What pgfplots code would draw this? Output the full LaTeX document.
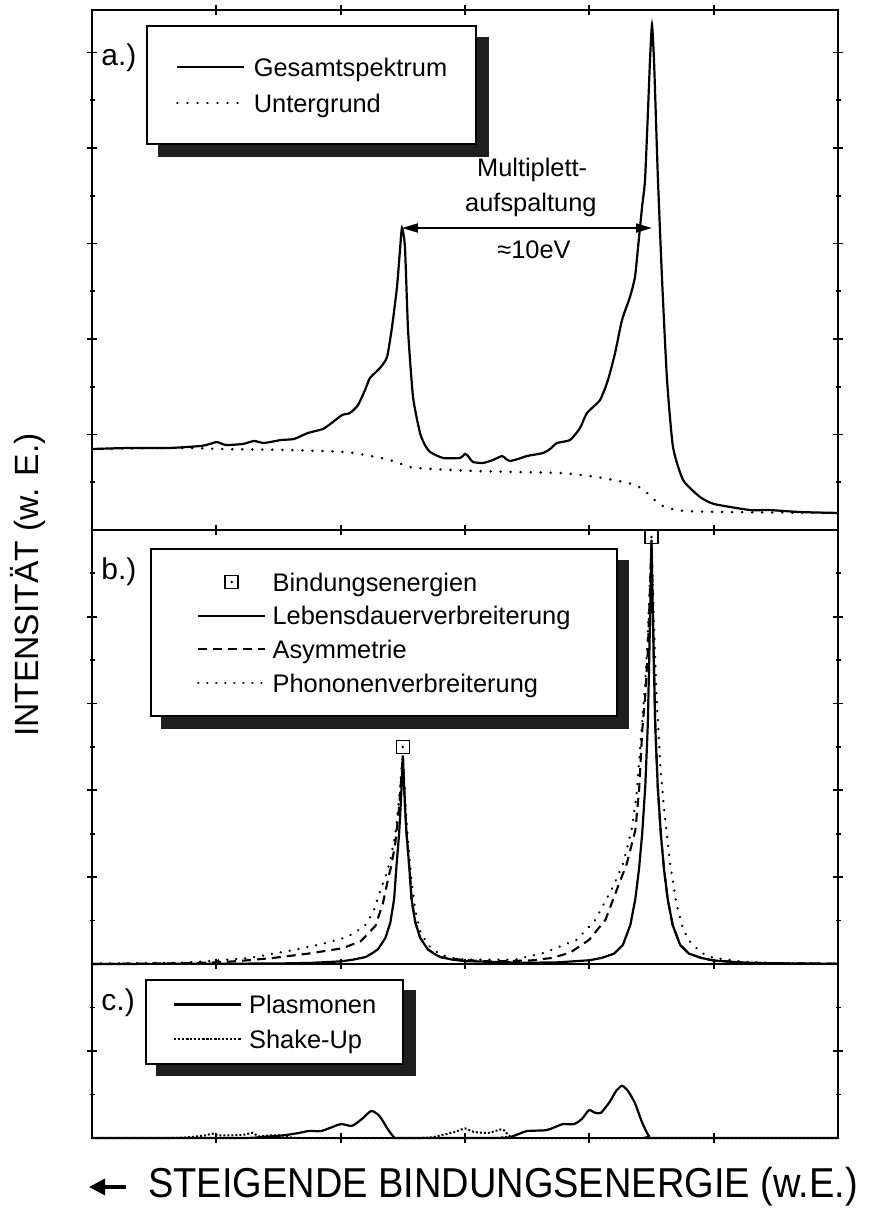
\documentclass[border=0pt]{standalone}
\usepackage{pgfplots}
\pgfplotsset{compat=1.18}
\usepackage{graphicx}
\usepackage{fontspec}
\setmainfont{Liberation Sans}
\usetikzlibrary{arrows.meta,backgrounds}

\pgfdeclareplotmark{sqdot}{%
  \pgfpathrectangle{\pgfpoint{-\pgfplotmarksize}{-\pgfplotmarksize}}{\pgfpoint{2\pgfplotmarksize}{2\pgfplotmarksize}}%
  \pgfusepathqstroke
  \pgfpathcircle{\pgfpointorigin}{0.7pt}%
  \pgfusepathqfill
}

\pgfplotsset{
  panel/.style={
    scale only axis, width=373pt, xmin=0, xmax=6, ymin=0,
    anchor=south west,
    xtick={1,2,3,4,5}, xticklabels={}, yticklabels={},
    axis line style={line width=1pt},
    tick style={line width=0.9pt, black},
    major tick length=5pt, minor tick length=2.5pt,
    tick align=center,
    clip=false,
    legend cell align=left,
    legend image code/.code={\draw[mark repeat=2,mark phase=2,##1] plot coordinates {(0pt,0pt) (16.75pt,0pt) (33.5pt,0pt)};},
  },
  legbox/.style={
    anchor=north west, draw=black, line width=1pt, fill=white,
    font=\fontsize{12.7}{15}\selectfont,
    nodes={inner sep=0pt, text height=9pt, text depth=0pt},
  },
}
\tikzset{
  sol/.style={line width=1.1pt, black},
  dots/.style={line width=1.4pt, black, line cap=round, dash pattern=on 0.01pt off 5pt},
  pdots/.style={line width=1.3pt, black, line cap=round, dash pattern=on 0.01pt off 4.5pt},
  dsh/.style={line width=1.05pt, black, dash pattern=on 4.5pt off 3pt},
  fdots/.style={line width=1pt, black, dash pattern=on 1pt off 1pt},
  lbl/.style={font=\fontsize{15}{18}\selectfont, anchor=center},
  txt/.style={font=\fontsize{12.7}{15}\selectfont, anchor=center},
}

\begin{document}
\begin{tikzpicture}
\useasboundingbox (0,0) rectangle (434.5pt,604pt);

% ---------------- panel a ----------------
\begin{axis}[panel, at={(46pt,339pt)}, height=260pt, ymax=5.445,
  ytick={1,2,3,4,5}, minor ytick={0.5,1.5,2.5,3.5,4.5},
  legend style={legbox, name=legA, at={(0.0724,0.971)}, inner xsep=14.5pt, inner ysep=16pt, row sep=9pt,
    /tikz/every odd column/.append style={column sep=4pt}}]
\addplot[sol, smooth, tension=0.35] coordinates {
(0,0.848) (0.306,0.859) (0.627,0.859) (0.877,0.880) (0.949,0.901) (1.005,0.921) (1.078,0.890)
(1.215,0.901) (1.303,0.932) (1.383,0.911) (1.520,0.942) (1.625,0.953) (1.737,1.016) (1.858,1.058)
(1.938,1.131) (2.011,1.204) (2.075,1.225) (2.140,1.309) (2.196,1.466) (2.236,1.592) (2.316,1.696)
(2.373,1.812) (2.413,2.126) (2.453,2.545) (2.477,2.932) (2.493,3.162) (2.517,2.963) (2.542,2.094)
(2.582,1.393) (2.638,1.016) (2.678,0.890) (2.719,0.817) (2.823,0.754) (2.960,0.754) (3.000,0.796)
(3.024,0.775) (3.064,0.712) (3.145,0.702) (3.225,0.733) (3.298,0.775) (3.330,0.743) (3.362,0.723)
(3.426,0.743) (3.499,0.775) (3.628,0.806) (3.684,0.848) (3.740,0.911) (3.845,0.942) (3.925,1.068)
(3.981,1.225) (4.086,1.361) (4.150,1.571) (4.207,1.853) (4.263,2.199) (4.327,2.440) (4.367,2.649)
(4.392,2.963) (4.424,3.382) (4.448,3.665) (4.472,4.398) (4.488,4.921) (4.504,5.288) (4.520,4.921)
(4.536,4.293) (4.552,3.665) (4.585,2.618) (4.625,1.571) (4.673,0.869) (4.754,0.524) (4.890,0.346)
(5.003,0.272) (5.292,0.209) (5.445,0.209) (5.695,0.188) (6,0.178)};
\addlegendentry{Gesamtspektrum}
\addplot[dots, smooth, tension=0.5] coordinates {
(0,0.848) (0.708,0.859) (1.046,0.848) (1.552,0.838) (2.027,0.817) (2.196,0.785) (2.365,0.743)
(2.469,0.702) (2.550,0.660) (2.735,0.639) (3.081,0.618) (3.418,0.607) (3.756,0.597) (4.005,0.565)
(4.190,0.524) (4.367,0.471) (4.464,0.387) (4.552,0.283) (4.633,0.230) (4.770,0.199) (5.107,0.188)
(6,0.178)};
\addlegendentry{Untergrund}
\draw[line width=1pt, {Triangle[length=8pt,width=4.5pt]}-{Triangle[length=8pt,width=4.5pt]}]
  (axis cs:2.493,3.162) -- (axis cs:4.504,3.162);
\node[txt] at (axis cs:3.54,3.77) {Multiplett-};
\node[txt] at (axis cs:3.53,3.40) {aufspaltung};
\node[txt] at (axis cs:3.555,2.93) {≈10eV};
\node[lbl] at (rel axis cs:0.036,0.908) {a.)};
\end{axis}

% ---------------- panel b ----------------
\begin{axis}[panel, at={(46pt,122pt)}, height=217pt, ymax=5,
  ytick={1,2,3,4}, minor ytick={0.5,1.5,2.5,3.5,4.5},
  legend style={legbox, name=legB, at={(0.0777,0.9585)}, inner xsep=23pt, inner ysep=12pt, row sep=7.85pt,
    /tikz/every odd column/.append style={column sep=3pt}}]
\addplot[only marks, mark=sqdot, mark size=3.25pt, line width=0.8pt, black] coordinates {(2.5,2.5) (4.5,4.92)};
\addlegendentry{Bindungsenergien}
\addplot[sol] coordinates {
(0,0) (1.0,0.003) (1.5,0.006) (1.75,0.012) (2.0,0.03) (2.1,0.05) (2.2,0.08) (2.25,0.12) (2.3,0.17)
(2.36,0.3) (2.4,0.48) (2.43,0.75) (2.45,1.15) (2.47,1.5) (2.48,1.75) (2.49,2.05) (2.5,2.4)
(2.51,2.05) (2.52,1.75) (2.53,1.5) (2.55,1.15) (2.57,0.75) (2.6,0.48) (2.64,0.3) (2.7,0.17)
(2.75,0.12) (2.8,0.08) (2.9,0.05) (3.0,0.033) (3.25,0.023) (3.5,0.014) (3.75,0.019) (4.0,0.043)
(4.1,0.07) (4.2,0.12) (4.27,0.22) (4.33,0.45) (4.37,0.75) (4.4,1.1) (4.425,1.5) (4.45,2.05)
(4.47,2.75) (4.48,3.4) (4.49,4.1) (4.5,4.88) (4.51,4.1) (4.52,3.4) (4.53,2.75) (4.55,2.05)
(4.575,1.5) (4.6,1.1) (4.63,0.75) (4.67,0.45) (4.73,0.22) (4.8,0.12) (4.9,0.07) (5.0,0.04)
(5.25,0.015) (5.5,0.008) (6,0.003)};
\addlegendentry{Lebensdauerverbreiterung}
\addplot[dsh] coordinates {
(0,0) (0.7,0.008) (1.0,0.018) (1.19,0.035) (1.46,0.07) (1.74,0.12) (2.01,0.18) (2.16,0.26)
(2.28,0.44) (2.34,0.7) (2.38,0.97) (2.41,1.15) (2.44,1.4) (2.47,1.8) (2.49,2.2) (2.5,2.4)
(2.51,2.05) (2.52,1.75) (2.53,1.5) (2.55,1.15) (2.57,0.75) (2.6,0.48) (2.64,0.3) (2.7,0.17)
(2.75,0.12) (2.8,0.08) (2.9,0.06) (3.0,0.045) (3.2,0.03) (3.53,0.041) (3.7,0.07) (3.845,0.13)
(4.0,0.28) (4.13,0.51) (4.23,0.89) (4.3,1.15) (4.37,1.54) (4.4,2.0) (4.426,2.7) (4.45,3.1)
(4.47,3.6) (4.49,4.4) (4.5,4.88) (4.51,4.1) (4.52,3.4) (4.53,2.75) (4.55,2.05) (4.575,1.5)
(4.6,1.1) (4.63,0.75) (4.67,0.45) (4.73,0.22) (4.8,0.12) (4.9,0.07) (5.0,0.04) (5.25,0.015)
(5.5,0.008) (6,0.003)};
\addlegendentry{Asymmetrie}
\addplot[pdots] coordinates {
(0,0.005) (0.7,0.015) (0.96,0.035) (1.27,0.07) (1.58,0.15) (1.85,0.23) (2.05,0.31) (2.19,0.43)
(2.26,0.59) (2.32,0.85) (2.36,1.0) (2.4,1.2) (2.44,1.5) (2.47,1.9) (2.49,2.25) (2.5,2.4)
(2.51,2.15) (2.52,1.85) (2.54,1.45) (2.57,0.95) (2.6,0.62) (2.64,0.38) (2.7,0.22) (2.8,0.11)
(2.9,0.07) (3.0,0.05) (3.2,0.05) (3.4,0.05) (3.64,0.13) (3.9,0.28) (4.05,0.51) (4.19,0.89)
(4.27,1.15) (4.34,1.54) (4.38,1.95) (4.42,2.7) (4.45,3.25) (4.47,3.8) (4.49,4.5) (4.5,4.88)
(4.51,4.4) (4.52,3.9) (4.54,3.1) (4.57,2.3) (4.6,1.8) (4.62,1.54) (4.65,1.15) (4.7,0.7)
(4.75,0.42) (4.8,0.27) (4.9,0.13) (5.0,0.07) (5.25,0.025) (5.5,0.01) (6,0.004)};
\addlegendentry{Phononenverbreiterung}
\node[lbl] at (rel axis cs:0.036,0.903) {b.)};
\end{axis}

% ---------------- panel c ----------------
\begin{axis}[panel, at={(46pt,35pt)}, height=87pt, ymax=2,
  ytick={1}, minor ytick={0.5,1.5},
  legend style={legbox, name=legC, at={(0.071,0.914)}, inner xsep=13.5pt, inner ysep=7.75pt, row sep=8.5pt,
    /tikz/every odd column/.append style={column sep=3.5pt}}]
\addplot[sol, smooth, tension=0.4] coordinates {
(0,0) (1.19,0) (1.35,0.01) (1.536,0.03) (1.673,0.06) (1.737,0.08) (1.842,0.08) (1.922,0.12)
(2.003,0.16) (2.091,0.14) (2.172,0.22) (2.244,0.31) (2.30,0.27) (2.333,0.21) (2.38,0.10)
(2.429,0.01) (2.477,0) (3.30,0) (3.362,0.01) (3.44,0.05) (3.499,0.08) (3.652,0.09) (3.732,0.13)
(3.788,0.16) (3.877,0.16) (3.941,0.22) (3.997,0.32) (4.046,0.29) (4.094,0.29) (4.166,0.42)
(4.215,0.54) (4.263,0.60) (4.311,0.54) (4.367,0.40) (4.424,0.18) (4.48,0.02) (4.528,0) (6,0)};
\addlegendentry{Plasmonen}
\addplot[fdots, smooth, tension=0.4] coordinates {
(0,0) (0.63,0) (0.79,0.01) (0.91,0.03) (0.97,0.05) (1.01,0.03) (1.11,0.03) (1.23,0.04)
(1.29,0.06) (1.34,0.02) (1.43,0.03) (1.54,0.03) (1.67,0) (2.64,0) (2.8,0.03) (2.92,0.07)
(3.0,0.11) (3.07,0.07) (3.19,0.06) (3.3,0.1) (3.36,0.02) (3.44,0) (6,0)};
\addlegendentry{Shake-Up}
\node[lbl] at (rel axis cs:0.035,0.776) {c.)};
\end{axis}

% legend shadows, behind everything
\begin{scope}[on background layer]
\foreach \n in {legA,legB,legC}
  \fill[black!88] ([xshift=5.75pt,yshift=-5.75pt]\n.south west) rectangle ([xshift=5.75pt,yshift=-5.75pt]\n.north east);
\end{scope}

\node[rotate=90, font=\fontsize{16.8}{20}\selectfont] at (14pt,311.5pt) {INTENSITÄT (w. E.)};
\draw[line width=1.6pt, -{Triangle[length=8pt,width=8pt]}] (63pt,10.5pt) -- (44.5pt,10.5pt);
\node[font=\fontsize{19}{22}\selectfont] at (251.5pt,10.5pt) {\scalebox{1}[1.1]{STEIGENDE BINDUNGSENERGIE (w.E.)}};
\end{tikzpicture}
\end{document}
